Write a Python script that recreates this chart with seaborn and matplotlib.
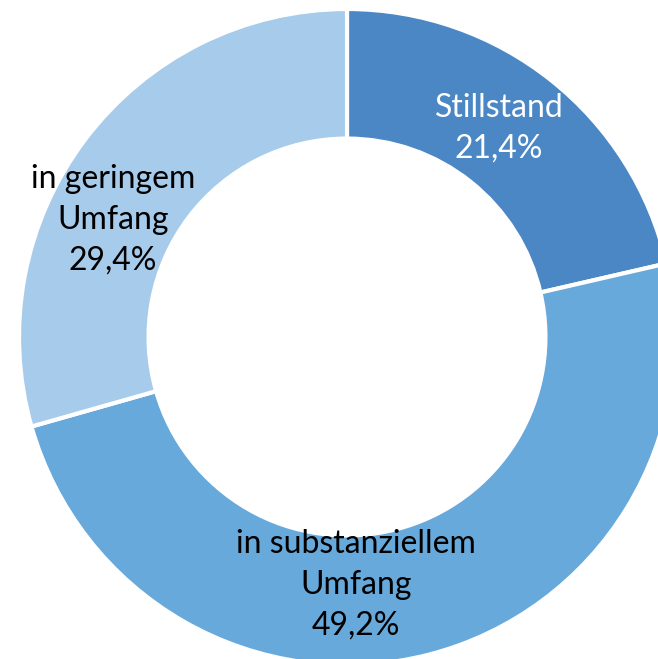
import matplotlib
matplotlib.use("Agg")
import matplotlib.pyplot as plt
import seaborn as sns
import numpy as np

# Data
categories = ["Stillstand", "in substanziellem\nUmfang", "in geringem\nUmfang"]
shares = [21.4, 49.2, 29.4]
colors = ["#4a87c4", "#67a9db", "#a7cbea"]
text_colors = ["white", "black", "black"]

# label placement (pixel coords of the label centres, Excel "best fit" style)
label_pos = [(499, 128), (356, 585), (113, 220)]

sns.set_style("white")
plt.rcParams["font.family"] = ["Lato", "DejaVu Sans"]

W, H = 658, 659
fig = plt.figure(figsize=(W / 100, H / 100), dpi=100)
ax = fig.add_axes([0, 0, 1, 1])

cx, cy, R = 347, 337, 328
ax.pie(shares, colors=colors, startangle=90, counterclock=False,
       center=(cx, H - cy), radius=R, frame=True,
       wedgeprops=dict(width=R * 0.395, edgecolor="white", linewidth=3))

for cat, val, (px, py), tc in zip(categories, shares, label_pos, text_colors):
    txt = f"{cat}\n{val:.1f}%".replace(".", ",")
    ax.text(px, H - py, txt, ha="center", va="center", color=tc,
            fontsize=23, linespacing=1.45)

ax.set_xlim(0, W)
ax.set_ylim(0, H)
ax.set_aspect("equal")
ax.axis("off")

fig.savefig("out.png", dpi=100)
